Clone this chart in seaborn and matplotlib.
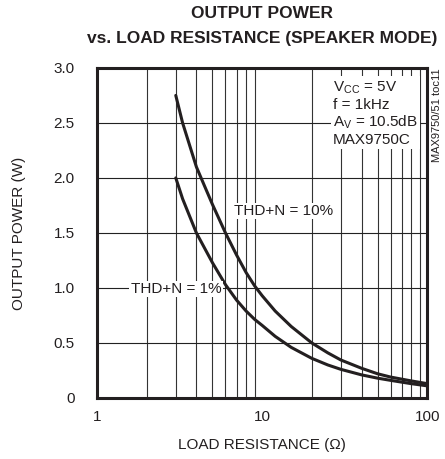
import numpy as np
import pandas as pd
import matplotlib
matplotlib.use('Agg')
import matplotlib.pyplot as plt
import seaborn as sns
from matplotlib.ticker import FixedLocator, NullFormatter

# values
r_10 = [3, 3.3, 4, 4.5, 5, 6, 7, 8, 9, 10, 12, 15, 20, 25, 30, 40, 50, 60, 80, 100]
p_10 = [2.75, 2.5, 2.1, 1.92, 1.76, 1.5, 1.3, 1.14, 1.02, 0.93, 0.79, 0.65, 0.5, 0.41, 0.345, 0.27, 0.22, 0.19, 0.155, 0.13]

r_1 = [3, 3.3, 4, 5, 6, 7, 8, 9, 10, 12, 15, 20, 25, 30, 40, 50, 60, 80, 100]
p_1 = [2.0, 1.81, 1.5, 1.23, 1.03, 0.89, 0.79, 0.715, 0.66, 0.56, 0.46, 0.36, 0.30, 0.26, 0.21, 0.18, 0.16, 0.13, 0.11]

y_ticks = [0, 0.5, 1.0, 1.5, 2.0, 2.5, 3.0]
y_labels = ['0', '0.5', '1.0', '1.5', '2.0', '2.5', '3.0']
x_ticks = [1, 10, 100]
x_labels = ['1', '10', '100']

df = pd.concat([
    pd.DataFrame({'R': r_10, 'P': p_10, 'curve': 'THD+N = 10%'}),
    pd.DataFrame({'R': r_1, 'P': p_1, 'curve': 'THD+N = 1%'}),
])

sns.set_style('white')
plt.rcParams['font.family'] = ['Liberation Sans', 'DejaVu Sans']
ink = '#231f20'

fig = plt.figure(figsize=(4.45, 4.59), dpi=100)
ax = fig.add_axes([0.218, 0.133, 0.742, 0.719])

# grid first
minor = [v * d for d in (1, 10) for v in range(2, 10)]
for v in minor:
    ax.axvline(v, color='#333333', lw=0.8, zorder=1)
for v in [0.5, 1.0, 1.5, 2.0, 2.5]:
    ax.axhline(v, color='#222222', lw=0.8, zorder=1)

sns.lineplot(data=df, x='R', y='P', hue='curve', palette=[ink, ink],
             legend=False, lw=2.2, ax=ax, zorder=3, sort=False)

ax.set_xscale('log')
ax.set_xlim(1, 100)
ax.set_ylim(0, 3.0)
ax.xaxis.set_major_locator(FixedLocator(x_ticks))
ax.set_xticklabels(x_labels)
ax.xaxis.set_minor_formatter(NullFormatter())
ax.set_yticks(y_ticks)
ax.set_yticklabels(y_labels)
ax.tick_params(axis='both', which='both', length=0, labelsize=11, colors=ink)
ax.tick_params(axis='y', pad=16)
ax.tick_params(axis='x', pad=9)

for s in ax.spines.values():
    s.set_visible(True)
    s.set_linewidth(2.2)
    s.set_color(ink)

ax.set_xlabel('LOAD RESISTANCE (\u03a9)', fontsize=11, color=ink, labelpad=10)
ax.set_ylabel('OUTPUT POWER (W)', fontsize=11, color=ink, labelpad=20)

fig.suptitle('OUTPUT POWER\nvs. LOAD RESISTANCE (SPEAKER MODE)', x=0.589, y=0.988,
             fontsize=12.5, fontweight='bold', color=ink, linespacing=1.9)

box = dict(facecolor='white', edgecolor='none', pad=1.0)
ax.text(6.8, 1.70, 'THD+N = 10%', fontsize=11, color=ink, ha='left', va='center', bbox=box, zorder=4)
ax.text(1.6, 0.99, 'THD+N = 1%', fontsize=11, color=ink, ha='left', va='center', bbox=box, zorder=4)

ax.text(0.715, 0.965, 'V$_{\\mathregular{CC}}$ = 5V\nf = 1kHz\nA$_{\\mathregular{V}}$ = 10.5dB\nMAX9750C',
        transform=ax.transAxes, fontsize=11, color=ink, ha='left', va='top',
        linespacing=1.15, bbox=dict(facecolor='white', edgecolor='none', pad=1.5), zorder=4)

fig.text(0.982, 0.852, 'MAX9750/51 toc11', rotation=90, fontsize=8, color=ink,
         ha='center', va='top')

fig.savefig('out.png', dpi=100)
